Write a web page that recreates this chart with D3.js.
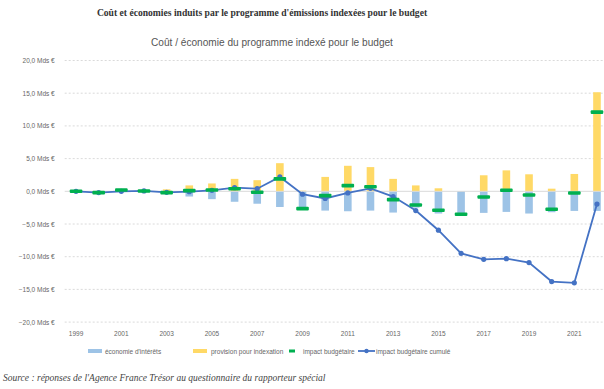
<!DOCTYPE html>
<html>
<head>
<meta charset="utf-8">
<script src="https://cdn.jsdelivr.net/npm/d3@7"></script>
<style>
  body { margin: 0; background: #fff; }
  svg { display: block; }
</style>
</head>
<body>
<div id="chart"></div>
<script>
var years = d3.range(1999, 2023);
var economie = [-0.1, -0.1, -0.1, -0.1, -0.3, -0.8, -1.2, -1.6, -1.9, -2.4, -2.5, -2.95, -3.05, -2.95, -3.25, -2.5, -3.4, -3.7, -3.3, -3.15, -3.4, -3.2, -3.0, -3.0];
var provision = [0.05, 0.05, 0.1, 0.1, 0.3, 0.9, 1.2, 1.9, 1.7, 4.3, 0.1, 2.2, 3.9, 3.7, 1.9, 0.9, 0.46, 0, 2.45, 3.2, 2.6, 0.4, 2.65, 15.15];
var impact = [0, -0.2, 0.2, 0.05, -0.2, 0.1, 0.2, 0.4, -0.15, 1.9, -2.65, -0.66, 0.87, 0.7, -1.27, -2.1, -2.9, -3.5, -0.87, 0.15, -0.56, -2.75, -0.26, 12.1];
var cumul = [0, -0.2, 0.0, 0.05, -0.15, -0.05, 0.15, 0.55, 0.4, 2.2, -0.45, -1.1, -0.25, 0.45, -0.8, -2.95, -5.95, -9.5, -10.4, -10.3, -10.9, -13.8, -14.0, -1.95];
var yTicks = [20, 15, 10, 5, 0, -5, -10, -15, -20];

var svgWidth = 604;
var svgHeight = 389;

var svg = d3.select("#chart")
  .append("svg")
  .attr("width", svgWidth)
  .attr("height", svgHeight);

var data = years.map(function (y, i) {
  return { year: y, eco: economie[i], prov: provision[i], imp: impact[i], cum: cumul[i] };
});

var x = d3.scaleBand()
  .domain(years)
  .range([64.7, 608.3]);

var y = d3.scaleLinear()
  .domain([-20, 20])
  .range([322.1, 60.5]);

// titles
svg.append("text")
  .attr("x", 262)
  .attr("y", 16)
  .attr("text-anchor", "middle")
  .attr("font-family", "Liberation Serif, serif")
  .attr("font-weight", "bold")
  .attr("font-size", "9.6px")
  .attr("fill", "#333")
  .text("Coût et économies induits par le programme d'émissions indexées pour le budget");

svg.append("text")
  .attr("x", 272)
  .attr("y", 46)
  .attr("text-anchor", "middle")
  .attr("font-family", "Liberation Sans, sans-serif")
  .attr("font-size", "10.1px")
  .attr("fill", "#555")
  .text("Coût / économie du programme indexé pour le budget");

// grid
svg.append("g")
  .selectAll("line")
  .data(yTicks.filter(d => d != 0))
  .enter()
  .append("line")
  .attr("x1", 64.7)
  .attr("x2", 604)
  .attr("y1", d => y(d))
  .attr("y2", d => y(d))
  .attr("stroke", "#d0d0d0")
  .attr("stroke-width", 0.8)
  .attr("stroke-dasharray", "2,2");

var leftAxis = d3.axisLeft(y)
  .tickValues(yTicks)
  .tickSize(0)
  .tickPadding(10)
  .tickFormat(d => d3.format(".1f")(d).replace(".", ",") + " Mds €");

var gy = svg.append("g")
  .attr("transform", "translate(64.7,0)")
  .call(leftAxis);
gy.select(".domain").remove();
gy.selectAll("text")
  .attr("font-family", "Liberation Sans, sans-serif")
  .attr("font-size", "6.5px")
  .attr("fill", "#666");

// bars
svg.append("g")
  .selectAll("rect")
  .data(data)
  .enter()
  .append("rect")
  .attr("x", d => x(d.year) + x.bandwidth() / 2 - 3.8)
  .attr("width", 7.6)
  .attr("y", y(0))
  .attr("height", d => y(d.eco) - y(0))
  .attr("fill", "#9dc3e6");

svg.append("g")
  .selectAll("rect")
  .data(data)
  .enter()
  .append("rect")
  .attr("x", d => x(d.year) + x.bandwidth() / 2 - 3.8)
  .attr("width", 7.6)
  .attr("y", d => y(d.prov))
  .attr("height", d => y(0) - y(d.prov))
  .attr("fill", "#ffd966");

// zero line
svg.append("line")
  .attr("x1", 64.7)
  .attr("x2", 604)
  .attr("y1", y(0))
  .attr("y2", y(0))
  .attr("stroke", "#d9d9d9")
  .attr("stroke-width", 1);

// cumulative line
var line = d3.line()
  .x(d => x(d.year) + x.bandwidth() / 2)
  .y(d => y(d.cum));

svg.append("path")
  .datum(data)
  .attr("d", line)
  .attr("fill", "none")
  .attr("stroke", "#4472c4")
  .attr("stroke-width", 1.8);

svg.append("g")
  .selectAll("circle")
  .data(data)
  .enter()
  .append("circle")
  .attr("cx", d => x(d.year) + x.bandwidth() / 2)
  .attr("cy", d => y(d.cum))
  .attr("r", 2.6)
  .attr("fill", "#4472c4");

// impact markers
svg.append("g")
  .selectAll("rect")
  .data(data)
  .enter()
  .append("rect")
  .attr("x", d => x(d.year) + x.bandwidth() / 2 - 6.3)
  .attr("y", d => y(d.imp) - 1.8)
  .attr("width", 12.6)
  .attr("height", 3.6)
  .attr("rx", 1)
  .attr("fill", "#00b050");

// x axis labels
var bottomAxis = d3.axisBottom(x)
  .tickValues(years.filter(d => d % 2 == 1))
  .tickSize(0)
  .tickPadding(6);

var gx = svg.append("g")
  .attr("transform", "translate(0,325)")
  .call(bottomAxis);
gx.select(".domain").remove();
gx.selectAll("text")
  .attr("font-family", "Liberation Sans, sans-serif")
  .attr("font-size", "6.5px")
  .attr("fill", "#666");

// legend
var legend = svg.append("g")
  .attr("font-family", "Liberation Sans, sans-serif")
  .attr("font-size", "6.5px")
  .attr("fill", "#666");

legend.append("rect").attr("x", 88).attr("y", 349).attr("width", 14).attr("height", 4).attr("fill", "#9dc3e6");
legend.append("text").attr("x", 105).attr("y", 353.5).text("économie d'intérêts");
legend.append("rect").attr("x", 193).attr("y", 349).attr("width", 14).attr("height", 4).attr("fill", "#ffd966");
legend.append("text").attr("x", 211).attr("y", 353.5).text("provision pour indexation");
legend.append("rect").attr("x", 289).attr("y", 349.5).attr("width", 6).attr("height", 3).attr("fill", "#00b050");
legend.append("text").attr("x", 303).attr("y", 353.5).text("impact budgétaire");
legend.append("line").attr("x1", 358).attr("x2", 375).attr("y1", 351).attr("y2", 351).attr("stroke", "#4472c4").attr("stroke-width", 1.8);
legend.append("circle").attr("cx", 366.5).attr("cy", 351).attr("r", 2.2).attr("fill", "#4472c4");
legend.append("text").attr("x", 376).attr("y", 353.5).text("impact budgétaire cumulé");

// source
svg.append("text")
  .attr("x", 3)
  .attr("y", 381)
  .attr("font-family", "Liberation Serif, serif")
  .attr("font-style", "italic")
  .attr("font-size", "9.5px")
  .attr("fill", "#444")
  .text("Source : réponses de l'Agence France Trésor au questionnaire du rapporteur spécial");
</script>
</body>
</html>
